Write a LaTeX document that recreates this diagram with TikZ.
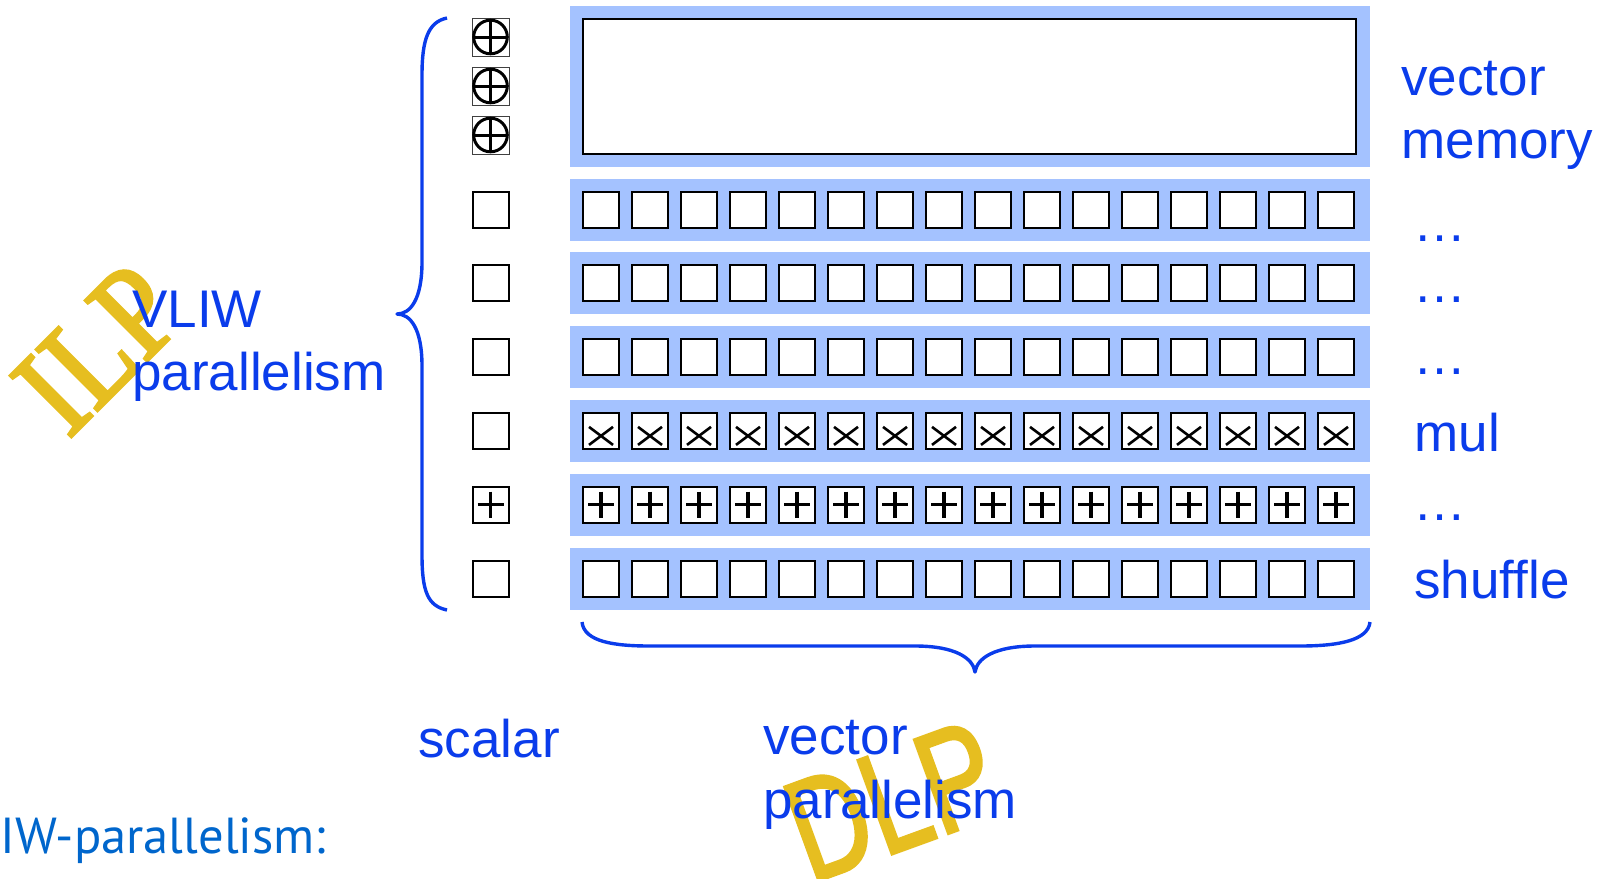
\documentclass[tikz,border=0pt]{standalone}
\usepackage{fontspec}
\setmainfont{Liberation Sans}
\newfontfamily\goldserif[FakeBold=2.5]{Liberation Serif}
\newfontfamily\goldsans[FakeBold=2.5]{Liberation Sans}
\newfontfamily\iwfont{PT Sans}
\usepackage{graphicx}
\definecolor{tblue}{RGB}{10,60,235}
\definecolor{pblue}{RGB}{164,194,255}
\definecolor{gold}{RGB}{230,190,32}
\definecolor{iwblue}{RGB}{0,102,204}
\begin{document}
\begin{tikzpicture}[x=0.5pt,y=-0.5pt,
  panel/.style={fill=pblue},
  cell/.style={draw=black, line width=1pt, fill=white, minimum size=18pt, inner sep=0pt},
  ocell/.style={draw=black!75, line width=0.5pt, fill=white, minimum width=18.5pt, minimum height=19pt, inner sep=0pt},
  sym/.style={line width=1.6pt},
  osym/.style={line width=1.5pt},
  xsym/.style={line width=1.3pt},
  lbl/.style={text=tblue, font=\fontsize{26.5}{32}\selectfont, inner sep=0pt, anchor=base west},
  brace/.style={draw=tblue, line width=1.7pt, line join=round},
  goldtxt/.style={text=gold, inner sep=0pt}
]
\useasboundingbox (0,0) rectangle (1598,878);

% gold overlay words (behind the blue text)
\node[goldtxt, rotate=45, font=\goldserif\fontsize{66}{66}\selectfont] (ilp) at (98,349) {\scalebox{0.86}[1]{ILP}};
\node[goldtxt, rotate=20, font=\goldsans\fontsize{72}{72}\selectfont] (dlp) at (892,801) {\scalebox{0.75}[1]{DLP}};

% vector memory panel
\path[panel] (570,6) rectangle (1370,167);
\draw[line width=1pt, fill=white] (583,19) rectangle (1356,154);

% scalar memory ops (circle-plus)
\foreach \k/\yy in {1/37,2/86,3/135}{
  \node[ocell] (op\k) at (490.5,\yy) {};
  \draw[osym] (op\k.center) circle[radius=8.4pt];
  \draw[osym, shift={(op\k.center)}] (-16.8,0) -- (16.8,0) (0,-16.8) -- (0,16.8);
}

% rows
\foreach \r in {0,...,5}{
  \pgfmathsetmacro{\c}{209.5+73.8*\r}
  \path[panel] (570,{\c-31}) rectangle (1370,{\c+31});
  \node[cell] (s\r) at (490.5,\c) {};
  \foreach \i in {0,...,15}{
    \node[cell] (v\r-\i) at ({601+49*\i},\c) {};
  }
}
% multiply and add symbols
\foreach \i in {0,...,15}{
  \draw[xsym, shift={(v3-\i.center)}] (-12,-4) -- (12,14) (-12,14) -- (12,-4);
  \draw[sym, shift={(v4-\i.center)}] (-13,0) -- (13,0) (0,-13) -- (0,13);
}
\draw[sym, shift={(s4.center)}] (-13,0) -- (13,0) (0,-13) -- (0,13);

% braces
\draw[brace] (447,18) .. controls (428,22) and (422,40) .. (422,75) -- (422,262)
  .. controls (422,300) and (410,314) .. (397,314)
  .. controls (410,314) and (422,328) .. (422,366) -- (422,555)
  .. controls (422,592) and (428,606) .. (447,610);
\draw[brace] (582,622) .. controls (584,642) and (615,646) .. (650,646) -- (915,646)
  .. controls (955,646) and (973,658) .. (975,672)
  .. controls (977,658) and (995,646) .. (1035,646) -- (1300,646)
  .. controls (1340,646) and (1368,640) .. (1370,622);

% labels
\node[lbl] (vm1) at (1401,95) {vector};
\node[lbl] (vm2) at (1401,158) {memory};
\node[lbl] (d0) at (1413,241) {…};
\node[lbl] (d1) at (1413,302) {…};
\node[lbl] (d2) at (1413,374) {…};
\node[lbl] (mul) at (1414,451) {mul};
\node[lbl] (d4) at (1413,520) {…};
\node[lbl] (shuf) at (1414,598) {shuffle};
\node[lbl] (vliw1) at (132,327) {VLIW};
\node[lbl] (vliw2) at (132,390) {parallelism};
\node[lbl] (scal) at (418,757) {scalar};
\node[lbl] (vp1) at (763,754) {vector};
\node[lbl] (vp2) at (763,818) {parallelism};
\node[lbl, text=iwblue, font=\iwfont\fontsize{25.3}{30}\selectfont] (iw) at (0,853) {IW-parallelism:};
\end{tikzpicture}
\end{document}
